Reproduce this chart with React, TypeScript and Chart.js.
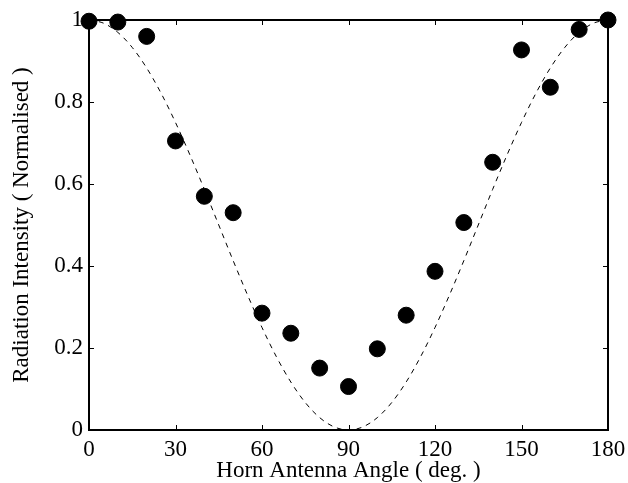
import React, { useEffect, useRef } from "react";
import { Chart, registerables } from "chart.js";

Chart.register(...registerables);

const angles = [0, 10, 20, 30, 40, 50, 60, 70, 80, 90, 100, 110, 120, 130, 140, 150, 160, 170, 180];
const measured = [0.997, 0.995, 0.96, 0.705, 0.57, 0.53, 0.285, 0.236, 0.151, 0.106, 0.198, 0.28, 0.387, 0.506, 0.653, 0.927, 0.836, 0.977, 1.0];

const theoryAngles = [0, 5, 10, 15, 20, 25, 30, 35, 40, 45, 50, 55, 60, 65, 70, 75, 80, 85, 90, 95, 100, 105, 110, 115, 120, 125, 130, 135, 140, 145, 150, 155, 160, 165, 170, 175, 180];
const theory = [1.0, 0.9924, 0.9698, 0.933, 0.883, 0.8214, 0.75, 0.671, 0.587, 0.5, 0.413, 0.329, 0.25, 0.1786, 0.117, 0.067, 0.0302, 0.0076, 0.0, 0.0076, 0.0302, 0.067, 0.117, 0.1786, 0.25, 0.329, 0.413, 0.5, 0.587, 0.671, 0.75, 0.8214, 0.883, 0.933, 0.9698, 0.9924, 1.0];

const xTitle = "Horn Antenna Angle ( deg. )";
const yTitle = "Radiation Intensity ( Normalised )";

const FONT = "'Liberation Serif', 'Times New Roman', serif";

const framePlugin = {
  id: "frameTicks",
  afterDraw(chart: any) {
    const { ctx, chartArea } = chart;
    const { left, right, top, bottom } = chartArea;
    ctx.save();
    ctx.strokeStyle = "#000";
    ctx.lineWidth = 1;
    const len = 5;
    const xs = chart.scales.x;
    xs.ticks.forEach((t: any) => {
      const px = Math.round(xs.getPixelForValue(t.value)) + 0.5;
      ctx.beginPath();
      ctx.moveTo(px, bottom);
      ctx.lineTo(px, bottom - len);
      ctx.moveTo(px, top);
      ctx.lineTo(px, top + len);
      ctx.stroke();
    });
    const ys = chart.scales.y;
    ys.ticks.forEach((t: any) => {
      const py = Math.round(ys.getPixelForValue(t.value)) + 0.5;
      ctx.beginPath();
      ctx.moveTo(left, py);
      ctx.lineTo(left + len, py);
      ctx.moveTo(right, py);
      ctx.lineTo(right - len, py);
      ctx.stroke();
    });
    ctx.lineWidth = 2;
    ctx.strokeRect(left, top, right - left, bottom - top);
    ctx.restore();
  },
};

export default function App() {
  const ref = useRef<HTMLCanvasElement | null>(null);
  useEffect(() => {
    if (!ref.current) return;
    const chart = new Chart(ref.current, {
      type: "scatter",
      data: {
        datasets: [
          {
            type: "line",
            data: theoryAngles.map((a, i) => ({ x: a, y: theory[i] })),
            borderColor: "#000",
            borderWidth: 1,
            borderDash: [5, 5],
            pointRadius: 0,
            tension: 0.4,
            cubicInterpolationMode: "monotone",
            fill: false,
            order: 2,
          } as any,
          {
            type: "scatter",
            data: angles.map((a, i) => ({ x: a, y: measured[i] })),
            backgroundColor: "#000",
            borderColor: "#000",
            pointRadius: 8,
            pointHoverRadius: 8,
            clip: false,
            order: 1,
          } as any,
        ],
      },
      options: {
        animation: false,
        responsive: false,
        maintainAspectRatio: false,
        layout: { padding: { left: 0, right: 20, top: 20, bottom: 0 } },
        plugins: { legend: { display: false }, tooltip: { enabled: false } },
        scales: {
          x: {
            type: "linear",
            min: 0,
            max: 180,
            ticks: { stepSize: 30, color: "#000", font: { family: FONT, size: 23 }, padding: 6, maxRotation: 0 },
            grid: { display: false, drawTicks: false },
            border: { display: false },
            title: { display: true, text: xTitle, color: "#000", font: { family: FONT, size: 23 }, padding: { top: 0, bottom: -2 } },
            afterFit: (s: any) => {
              s.height = 53;
              s.paddingLeft = 0;
              s.paddingRight = 0;
            },
          },
          y: {
            type: "linear",
            min: 0,
            max: 1,
            ticks: {
              stepSize: 0.2,
              color: "#000",
              font: { family: FONT, size: 23 },
              padding: 6,
              callback: (v: any) => String(Math.round(Number(v) * 10) / 10),
            },
            grid: { display: false, drawTicks: false },
            border: { display: false },
            title: { display: true, text: yTitle, color: "#000", font: { family: FONT, size: 23 }, padding: { top: 8, bottom: 4 } },
            afterFit: (s: any) => {
              s.width = 89;
              s.paddingTop = 0;
              s.paddingBottom = 0;
            },
          },
        },
      },
      plugins: [framePlugin],
    } as any);
    return () => chart.destroy();
  }, []);
  return (
    <div style={{ position: "fixed", left: 0, top: 0, width: 628, height: 483, background: "#fff" }}>
      <canvas ref={ref} width={628} height={483} style={{ width: 628, height: 483 }} />
    </div>
  );
}
